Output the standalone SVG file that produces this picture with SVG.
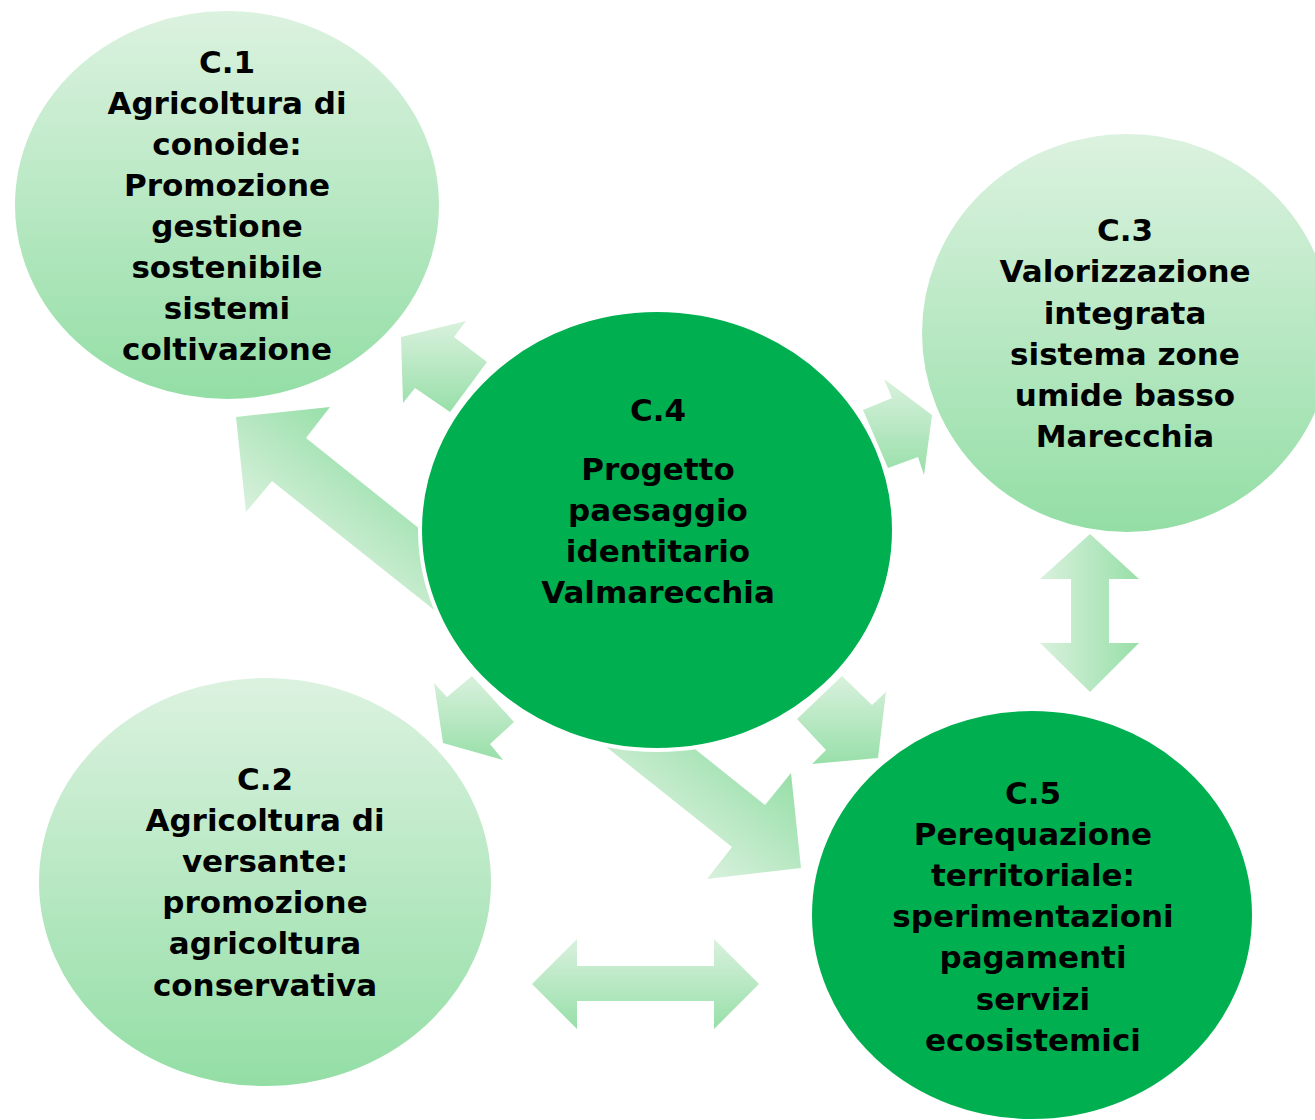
<svg xmlns="http://www.w3.org/2000/svg" width="1315" height="1120" viewBox="0 0 1315 1120">
<defs>
<linearGradient id="gLight" x1="0" y1="0" x2="0" y2="1">
<stop offset="0" stop-color="#dcf2e0"/>
<stop offset="1" stop-color="#93dea5"/>
</linearGradient>
<linearGradient id="gArrV" x1="0" y1="0" x2="0" y2="1">
<stop offset="0" stop-color="#d9f1dd"/>
<stop offset="1" stop-color="#98dfa9"/>
</linearGradient>
<linearGradient id="gArrH" x1="0" y1="0" x2="1" y2="0">
<stop offset="0" stop-color="#d9f1dd"/>
<stop offset="1" stop-color="#98dfa9"/>
</linearGradient>
<linearGradient id="gArrD" gradientUnits="userSpaceOnUse" x1="246" y1="512" x2="330" y2="407">
<stop offset="0" stop-color="#d9f1dd"/>
<stop offset="1" stop-color="#98dfa9"/>
</linearGradient>
</defs>
<style>
.light{fill:url(#gLight);stroke:#ffffff;stroke-width:4}
.dark{fill:#00b050;stroke:#ffffff;stroke-width:4}
.t{font-family:"DejaVu Sans","Liberation Sans",sans-serif;font-weight:bold;font-size:31px;fill:#000000;text-anchor:middle}
.arrV{fill:url(#gArrV)}
.arrH{fill:url(#gArrH)}
.arrD{fill:url(#gArrD)}
</style>
<rect width="1315" height="1120" fill="#ffffff"/>
<g id="C1">
<ellipse class="light" cx="227" cy="205" rx="214" ry="196"/>
<text class="t"><tspan x="227" y="73">C.1</tspan><tspan x="227" y="114">Agricoltura di</tspan><tspan x="227" y="155">conoide:</tspan><tspan x="227" y="196">Promozione</tspan><tspan x="227" y="237">gestione</tspan><tspan x="227" y="278">sostenibile</tspan><tspan x="227" y="319">sistemi</tspan><tspan x="227" y="360">coltivazione</tspan></text>
</g>
<g id="C2">
<ellipse class="light" cx="265" cy="882" rx="228" ry="206"/>
<text class="t"><tspan x="265" y="790">C.2</tspan><tspan x="265" y="831">Agricoltura di</tspan><tspan x="265" y="872">versante:</tspan><tspan x="265" y="913">promozione</tspan><tspan x="265" y="954">agricoltura</tspan><tspan x="265" y="996">conservativa</tspan></text>
</g>
<g id="C3">
<ellipse class="light" cx="1127" cy="333" rx="207" ry="201"/>
<text class="t"><tspan x="1125" y="241">C.3</tspan><tspan x="1125" y="282">Valorizzazione</tspan><tspan x="1125" y="324">integrata</tspan><tspan x="1125" y="365">sistema zone</tspan><tspan x="1125" y="406">umide basso</tspan><tspan x="1125" y="447">Marecchia</tspan></text>
</g>
<g id="connectors">
<polygon class="arrD" points="236,417 330,407 306,438 765,805 791,773 801,868 707,879 732,847 272,481 246,512"/>
<polygon class="arrV" points="401,337 466,321 454,337 487,362 450,412 415,388 403,403"/>
<polygon class="arrV" points="863,410 892,398 884,379 932,415 924,475 918,457 888,468"/>
<polygon class="arrV" points="434,683 447,697 472,676 514,722 490,744 503,760 443,743"/>
<polygon class="arrV" points="797,719 842,676 872,705 886,692 878,758 812,764 826,750"/>
<polygon class="arrH" points="1090,534 1139,579 1109,579 1109,643 1139,643 1090,692 1040,643 1071,643 1071,579 1040,579"/>
<polygon class="arrV" points="532,984 577,939 577,966 714,966 714,939 759,984 714,1029 714,1001 577,1001 577,1029"/>
</g>
<g id="C4">
<ellipse class="dark" cx="657" cy="530" rx="237" ry="220"/>
<text class="t"><tspan x="658" y="421">C.4</tspan><tspan x="658" y="480">Progetto</tspan><tspan x="658" y="521">paesaggio</tspan><tspan x="658" y="562">identitario</tspan><tspan x="658" y="603">Valmarecchia</tspan></text>
</g>
<g id="C5">
<ellipse class="dark" cx="1032" cy="915" rx="222" ry="206"/>
<text class="t"><tspan x="1033" y="804">C.5</tspan><tspan x="1033" y="845">Perequazione</tspan><tspan x="1033" y="886">territoriale:</tspan><tspan x="1033" y="927">sperimentazioni</tspan><tspan x="1033" y="968">pagamenti</tspan><tspan x="1033" y="1010">servizi</tspan><tspan x="1033" y="1051">ecosistemici</tspan></text>
</g>
</svg>
